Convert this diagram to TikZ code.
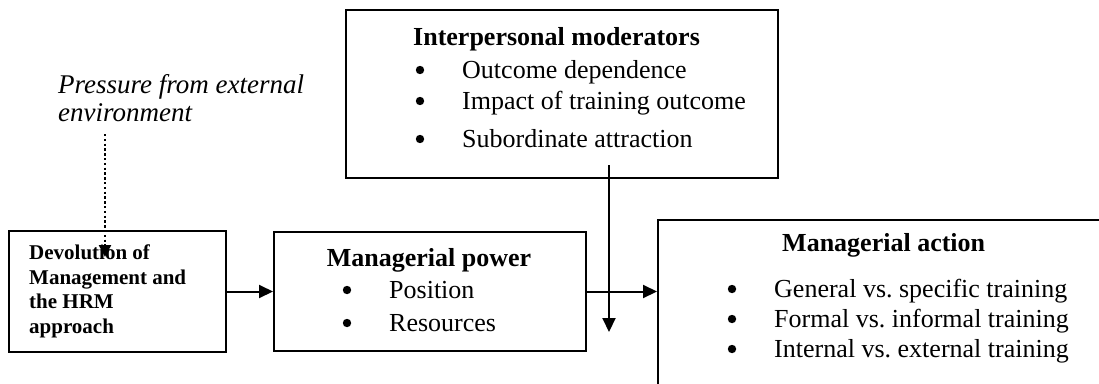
\documentclass[tikz,border=0pt]{standalone}
\usepackage{fontspec}
\setmainfont{Liberation Serif}
\usetikzlibrary{arrows.meta}
\frenchspacing

\begin{document}
\begin{tikzpicture}[x=1pt,y=-1pt,
  box/.style={draw, line width=2pt, inner sep=0pt, anchor=north west},
  flow/.style={line width=2pt, -{Triangle[length=14pt,width=13pt]}},
  press/.style={line width=2.4pt, dash pattern=on 2.4pt off 2.4pt, -{Triangle[length=12pt,width=12pt]}},
  hd/.style={anchor=base west, inner sep=0pt, text height=18pt, text depth=5pt, font=\fontsize{26}{31}\selectfont\bfseries},
  itm/.style={anchor=base west, inner sep=0pt, text height=18pt, text depth=5pt, font=\fontsize{26}{31}\selectfont},
]

% Cornice (la figura originale taglia il box di destra)
\clip (0,0) rectangle (1099,383);

% Pressione esterna
\node[anchor=base west, inner sep=0pt, align=left,
  font=\fontsize{27}{28}\selectfont\itshape] (press) at (58,121)
  {Pressure from external\\environment};
\coordinate (pStart) at (105,134);
\coordinate (pEnd) at (105,257);

% Box
\node[box, minimum width=217pt, minimum height=121pt] (dev) at (8,230) {};
\node[box, minimum width=312pt, minimum height=119pt] (pow) at (273,231) {};
\node[box, minimum width=432pt, minimum height=168pt] (mod) at (345,9) {};
\node[box, minimum width=480pt, minimum height=200pt] (act) at (657,219) {};

% Devolution
\node[anchor=base west, inner sep=0pt, align=left,
  font=\fontsize{21}{24.4}\selectfont\bfseries] (devTxt) at (29,333)
  {Devolution of\\Management and\\the HRM\\approach};

% Managerial power
\node[hd, anchor=base] (powHd) at (429,266) {Managerial power};
\node[itm] (pow1) at (389,298) {Position};
\node[itm] (pow2) at (389,331) {Resources};

% Interpersonal moderators
\node[hd] (modHd) at (413,45) {Interpersonal moderators};
\node[itm] (mod1) at (462,78) {Outcome dependence};
\node[itm] (mod2) at (462,109) {Impact of training outcome};
\node[itm] (mod3) at (462,147) {Subordinate attraction};
\coordinate (modIn) at (609,165);
\coordinate (modOut) at (609,332);

% Managerial action
\node[hd] (actHd) at (782,251) {Managerial action};
\node[itm] (act1) at (774,297) {General vs. specific training};
\node[itm] (act2) at (774,327) {Formal vs. informal training};
\node[itm] (act3) at (774,357) {Internal vs. external training};

% Pallini degli elenchi
\foreach \y in {70,101,139} \fill (420,\y) circle (4.2pt);
\foreach \y in {290,323} \fill (347,\y) circle (4.2pt);
\foreach \y in {289,319,349} \fill (732,\y) circle (4.2pt);

% Frecce
\draw[press] (pStart) -- (pEnd);
\draw[flow] (dev.east) -- (pow.west);
\draw[flow] (pow.east) -- (pow.east -| act.west);
\draw[flow] (modIn) -- (modOut);

\end{tikzpicture}
\end{document}
